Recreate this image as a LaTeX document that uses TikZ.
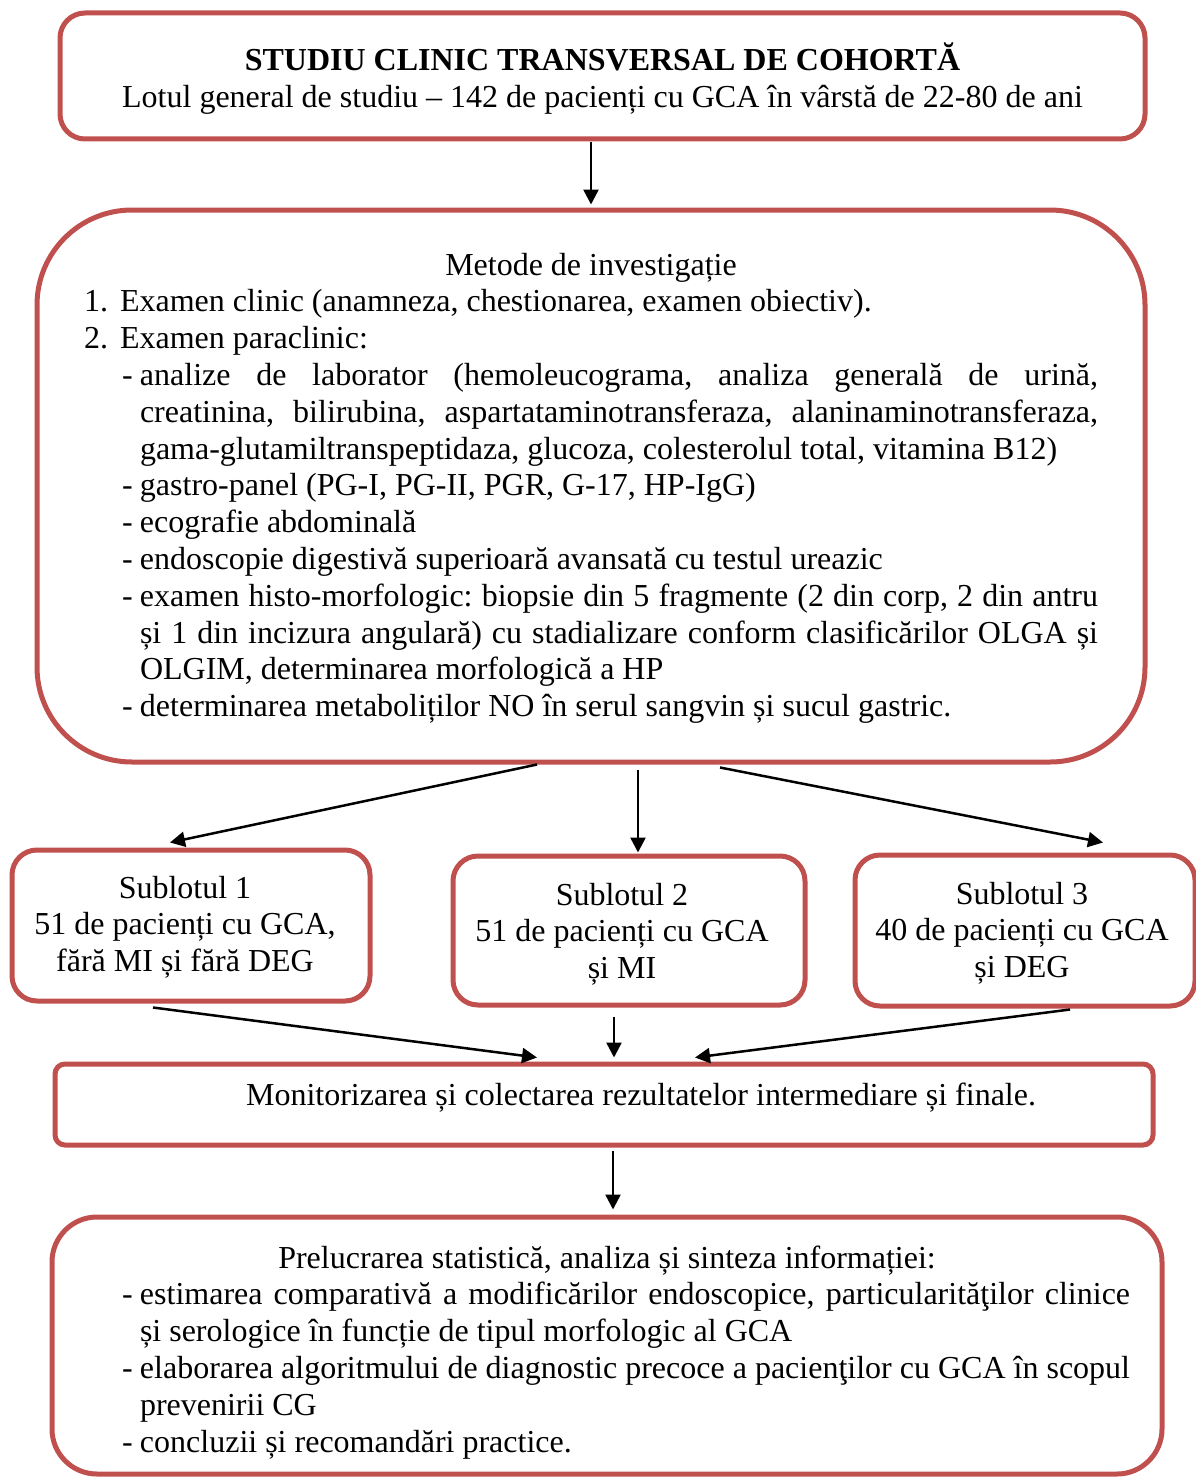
\documentclass[tikz,border=0pt]{standalone}
\usepackage{fontspec}
\setmainfont{Liberation Serif}
\usetikzlibrary{arrows.meta}
\definecolor{boxred}{HTML}{C0504D}
\tolerance=10000
\hbadness=10000
\hyphenpenalty=10000
\exhyphenpenalty=10000
\frenchspacing
\newcommand\bodyfont{\fontsize{32}{36.8}\selectfont\spaceskip=8pt plus 6pt minus 2.5pt\xspaceskip=8pt plus 6pt minus 2.5pt}
\newcommand\numitem[2]{\par\leftskip=36pt\rightskip=0pt\parfillskip=0pt plus 1fil\noindent\hspace*{-36pt}\makebox[36pt][l]{#1}#2\par}
\newcommand\dashitem[1]{\par\leftskip=56pt\rightskip=0pt\parfillskip=0pt plus 1fil\noindent\hspace*{-18pt}\makebox[18pt][l]{-}#1\par}
\begin{document}
\begin{tikzpicture}[x=1pt,y=-1pt,
  font=\bodyfont,
  box/.style={draw=boxred, line width=5pt, rounded corners=#1, inner sep=0pt, fill=none},
  txt/.style={inner sep=0pt, outer sep=0pt},
  ctxt/.style={inner sep=0pt, outer sep=0pt, align=flush center, anchor=base},
  arr/.style={line width=2.5pt, -{Triangle[length=15pt,width=15pt]}}
]
\useasboundingbox (0,0) rectangle (1195,1477);

% boxes
\node[box=25pt, minimum width=1085pt, minimum height=126pt] (b1) at (602.5,76) {};
\node[box=95pt, minimum width=1108pt, minimum height=552pt] (b2) at (591,486) {};
\node[box=25pt, minimum width=358pt, minimum height=151pt] (s1) at (191,925.5) {};
\node[box=25pt, minimum width=352pt, minimum height=149pt] (s2) at (629,930.5) {};
\node[box=25pt, minimum width=340pt, minimum height=151pt] (s3) at (1025,930.5) {};
\node[box=10pt, minimum width=1098pt, minimum height=81pt] (mon) at (604,1104.5) {};
\node[box=45pt, minimum width=1110pt, minimum height=257pt] (fin) at (607,1345.5) {};

% texts
\node[ctxt, text width=1080pt] (t1) at (602.5,71)
  {\bodyfont\textbf{STUDIU CLINIC TRANSVERSAL DE COHORTĂ}\\Lotul general de studiu – 142 de pacienți cu GCA în vârstă de 22-80 de ani};

\node[txt, text width=1014pt, anchor=base west] (t2) at (84,275) {\bodyfont
{\centering Metode de investigație\par}%
\numitem{1.}{Examen clinic (anamneza, chestionarea, examen obiectiv).}%
\numitem{2.}{Examen paraclinic:}%
\dashitem{analize de laborator (hemoleucograma, analiza generală de urină,\linebreak creatinina, bilirubina, aspartataminotransferaza, alaninaminotransferaza,\linebreak gama-glutamiltranspeptidaza, glucoza, colesterolul total, vitamina B12)}%
\dashitem{gastro-panel (PG-I, PG-II, PGR, G-17, HP-IgG)}%
\dashitem{ecografie abdominală}%
\dashitem{endoscopie digestivă superioară avansată cu testul ureazic}%
\dashitem{examen histo-morfologic: biopsie din 5 fragmente (2 din corp, 2 din antru\linebreak și 1 din incizura angulară) cu stadializare conform clasificărilor OLGA și\linebreak OLGIM, determinarea morfologică a HP}%
\dashitem{determinarea metaboliților NO în serul sangvin și sucul gastric.}%
};

\node[ctxt, text width=340pt] (ts1) at (185,898)
  {\bodyfont Sublotul 1\\51 de pacienți cu GCA,\\fără MI și fără DEG};
\node[ctxt, text width=340pt] (ts2) at (622,905)
  {\bodyfont Sublotul 2\\51 de pacienți cu GCA\\și MI};
\node[ctxt, text width=330pt] (ts3) at (1022,904)
  {\bodyfont Sublotul 3\\40 de pacienți cu GCA\\și DEG};

\node[txt, anchor=base] (t5) at (641,1105)
  {Monitorizarea și colectarea rezultatelor intermediare și finale.};

\node[txt, text width=1046pt, anchor=base west] (t6) at (84,1268) {\bodyfont
{\centering Prelucrarea statistică, analiza și sinteza informației:\par}%
\dashitem{estimarea comparativă a modificărilor endoscopice, particularităţilor clinice\linebreak și serologice în funcție de tipul morfologic al GCA}%
\dashitem{elaborarea algoritmului de diagnostic precoce a pacienţilor cu GCA în scopul\linebreak prevenirii CG}%
\dashitem{concluzii și recomandări practice.}%
};

% connectors
\draw[arr] (b2.north |- b1.south) -- ([yshift=3pt]b2.north);
\draw[arr] ([xshift=-54pt]b2.south) -- ([xshift=-21pt,yshift=5pt]s1.north);
\draw[arr] ([xshift=47pt,yshift=-5pt]b2.south) -- ([xshift=9pt,yshift=1pt]s2.north);
\draw[arr] ([xshift=129pt,yshift=-3pt]b2.south) -- ([xshift=78pt,yshift=10pt]s3.north);
\draw[arr] ([xshift=-38pt,yshift=-4pt]s1.south) -- ([xshift=-67pt,yshift=4pt]mon.north);
\draw[arr] ([xshift=-15pt,yshift=-9pt]s2.south) -- ([xshift=10pt,yshift=4pt]mon.north);
\draw[arr] ([xshift=45pt,yshift=-1pt]s3.south) -- ([xshift=91pt,yshift=4pt]mon.north);
\draw[arr] ([xshift=9pt,yshift=-3pt]mon.south) -- ([xshift=6pt,yshift=5pt]fin.north);
\end{tikzpicture}
\end{document}
